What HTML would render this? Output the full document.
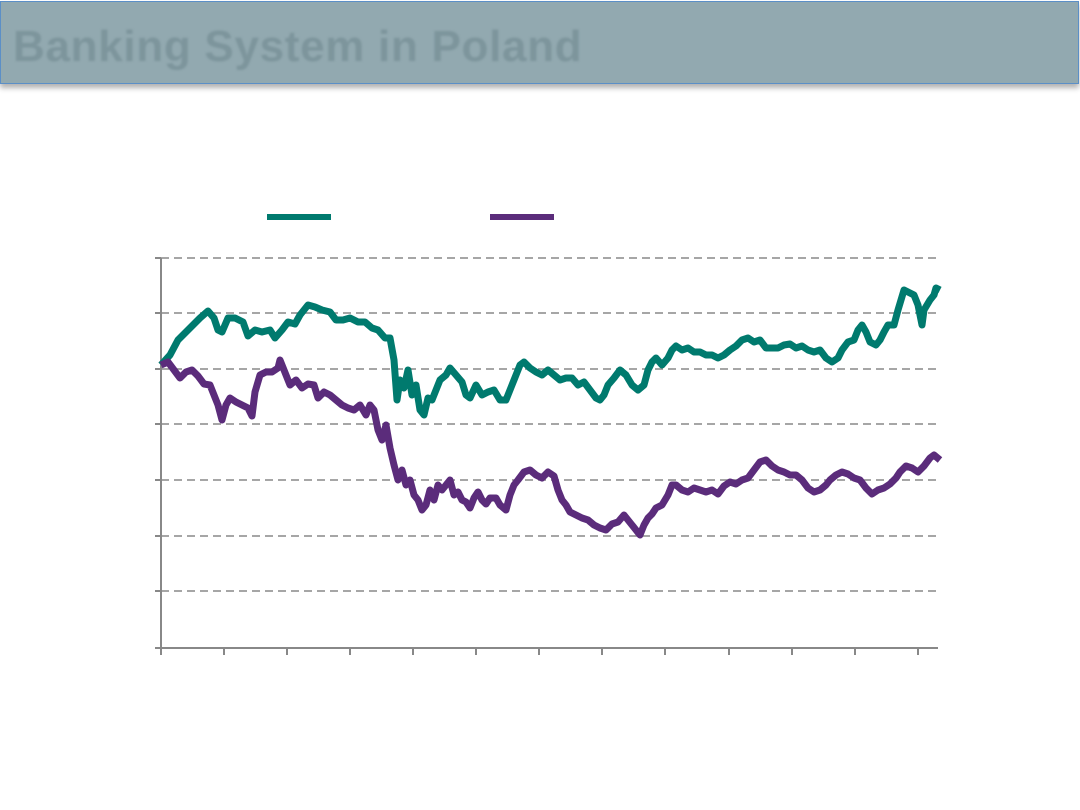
<!DOCTYPE html>
<html><head><meta charset="utf-8"><style>
body{margin:0;width:1080px;height:810px;background:#fff;overflow:hidden;position:relative;font-family:"Liberation Sans",sans-serif}
.bar{position:absolute;left:0;top:1px;width:1077px;height:81px;background:#92a9b0;border:1px solid #5b8fc7;box-shadow:0 4px 5px rgba(0,0,0,.3)}
.t{position:absolute;left:12px;top:20px;font-size:44px;font-weight:bold;color:#7d959c;filter:blur(1px);letter-spacing:0.7px}
</style></head><body>
<div class="bar"><div class="t">Banking System in Poland</div></div>
<svg width="1080" height="810" style="position:absolute;left:0;top:0">
<g stroke="#888" stroke-width="1.5" stroke-dasharray="8,5">
<line x1="161" y1="258" x2="938" y2="258"/><line x1="161" y1="313" x2="938" y2="313"/><line x1="161" y1="369" x2="938" y2="369"/><line x1="161" y1="424" x2="938" y2="424"/><line x1="161" y1="480" x2="938" y2="480"/><line x1="161" y1="536" x2="938" y2="536"/><line x1="161" y1="591" x2="938" y2="591"/>
</g>
<g stroke="#888" stroke-width="2">
<line x1="161" y1="258" x2="161" y2="648"/><line x1="161" y1="648" x2="938" y2="648"/>
<line x1="155" y1="258" x2="161" y2="258"/><line x1="155" y1="313" x2="161" y2="313"/><line x1="155" y1="369" x2="161" y2="369"/><line x1="155" y1="424" x2="161" y2="424"/><line x1="155" y1="480" x2="161" y2="480"/><line x1="155" y1="536" x2="161" y2="536"/><line x1="155" y1="591" x2="161" y2="591"/><line x1="155" y1="648" x2="161" y2="648"/>
<line x1="161" y1="648" x2="161" y2="655"/><line x1="224" y1="648" x2="224" y2="655"/><line x1="287" y1="648" x2="287" y2="655"/><line x1="350" y1="648" x2="350" y2="655"/><line x1="413" y1="648" x2="413" y2="655"/><line x1="476" y1="648" x2="476" y2="655"/><line x1="539" y1="648" x2="539" y2="655"/><line x1="602" y1="648" x2="602" y2="655"/><line x1="665" y1="648" x2="665" y2="655"/><line x1="729" y1="648" x2="729" y2="655"/><line x1="792" y1="648" x2="792" y2="655"/><line x1="855" y1="648" x2="855" y2="655"/><line x1="918" y1="648" x2="918" y2="655"/>
</g>
<line x1="267" y1="217" x2="331" y2="217" stroke="#007a6e" stroke-width="6"/>
<line x1="490" y1="217" x2="554" y2="217" stroke="#5b2c7b" stroke-width="6"/>
<polyline fill="none" stroke="#007a6e" stroke-width="7" stroke-linejoin="round" points="161,365 170,355 178,340 190,328 200,318 208,311 214,318 218,330 222,332 228,318 235,318 243,322 248,336 255,330 262,332 270,330 275,338 282,330 288,322 295,324 300,315 308,305 315,307 322,310 330,312 336,320 343,320 350,318 358,322 365,322 372,328 378,330 385,338 390,338 394,360 397,400 400,380 404,388 408,370 412,395 416,385 420,410 424,415 428,398 432,400 436,390 440,380 446,375 450,368 456,375 462,382 466,395 470,398 476,385 482,395 488,392 494,390 500,400 506,400 512,385 516,375 520,365 524,362 530,368 536,372 542,375 548,370 554,375 560,380 566,378 572,378 578,385 584,382 590,390 596,398 600,400 604,395 608,385 614,378 620,370 626,375 632,385 638,390 644,385 648,370 652,362 656,358 662,365 668,358 672,350 676,346 682,350 688,348 694,352 700,352 706,355 712,355 718,358 724,355 730,350 736,346 742,340 748,338 754,342 760,340 766,348 772,348 778,348 784,345 790,344 796,348 802,346 808,350 814,352 820,350 826,358 832,362 838,358 842,350 848,342 854,340 858,330 862,325 866,332 870,342 876,345 880,340 884,332 888,325 894,325 898,310 904,290 908,292 914,295 918,305 922,325 924,310 930,300 934,295 936,288 940,290"/>
<polyline fill="none" stroke="#5b2c7b" stroke-width="7" stroke-linejoin="round" points="161,365 168,362 174,370 180,378 186,372 192,370 198,376 204,384 210,385 214,395 218,405 222,420 226,405 230,398 236,402 242,405 248,408 252,416 255,392 260,375 266,372 272,372 278,368 280,360 284,370 290,385 296,380 302,388 308,384 314,385 318,398 324,392 330,395 336,400 342,405 348,408 354,410 360,405 366,415 370,405 374,410 378,430 382,440 386,425 390,448 394,465 398,480 402,470 406,485 410,480 414,495 418,500 422,510 426,505 430,490 434,500 438,485 442,490 446,485 450,480 454,495 458,492 462,500 466,502 470,508 474,498 478,492 482,500 486,504 490,498 496,498 500,505 506,510 510,495 514,485 518,480 524,472 530,470 536,475 542,478 548,472 554,476 558,490 562,500 566,505 570,512 576,515 582,518 588,520 594,525 600,528 606,530 612,524 618,522 624,515 628,520 632,525 636,530 640,535 644,525 648,518 652,514 656,508 662,505 668,495 672,485 676,485 682,490 688,492 694,488 700,490 706,492 712,490 718,494 724,486 730,482 736,484 742,480 748,478 754,470 760,462 766,460 772,466 778,470 784,472 790,475 796,475 802,480 808,488 814,492 820,490 826,485 830,480 836,475 842,472 848,474 854,478 860,480 866,488 872,494 878,490 884,488 890,484 896,478 900,472 906,466 912,468 918,472 924,466 930,458 934,455 940,460"/>
</svg>
</body></html>
